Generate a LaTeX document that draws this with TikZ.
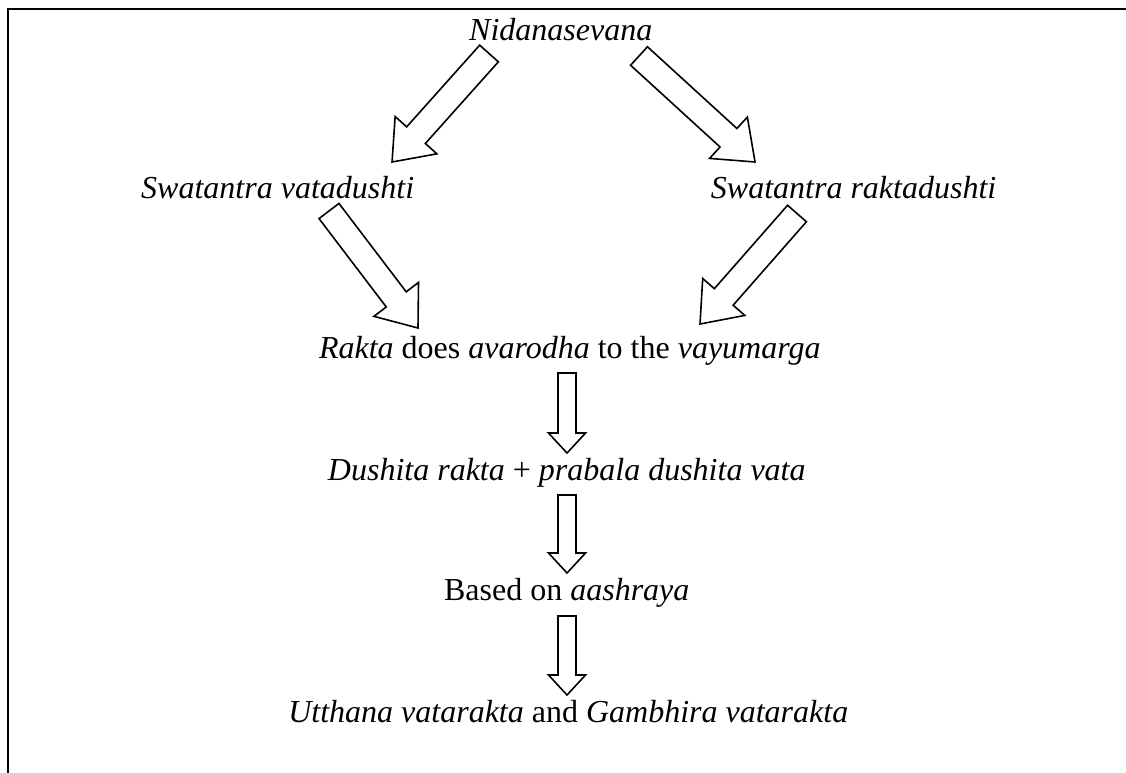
\documentclass[tikz,border=0pt]{standalone}
\usepackage{fontspec}
\setmainfont{Liberation Serif}
\usepackage{tikz}
\usetikzlibrary{calc}

% hollow block arrow: from, to, half shaft, half head, head length
\newcommand{\hollowarrow}[5]{%
  \coordinate (ha) at ($(#2)!#5!(#1)$);
  \draw[blockarr] ($(#1)!#3!90:(#2)$) -- ($(ha)!#3!90:(#2)$) -- ($(ha)!#4!90:(#2)$) -- (#2)
    -- ($(ha)!#4!-90:(#2)$) -- ($(ha)!#3!-90:(#2)$) -- ($(#1)!#3!-90:(#2)$) -- cycle;}

\begin{document}
\begin{tikzpicture}[
    every node/.style={font=\fontsize{12}{14}\selectfont,anchor=base,inner sep=0pt},
    lbl/.style={font=\fontsize{12}{14}\selectfont\itshape},
    blockarr/.style={draw,line width=0.6pt,fill=white,line join=miter},
    frame/.style={draw,line width=0.8pt}
]
\useasboundingbox (0,0) rectangle (422.25pt,-289.5pt);
\draw[frame] (0.10,-10.4) -- (0.10,-0.12) -- (15,-0.12);

\node[lbl] (nid) at (7.39,-0.53) {Nidanasevana};
\node[lbl] (vata) at (3.66,-2.61) {Swatantra vatadushti};
\node[lbl] (rakt) at (11.25,-2.61) {Swatantra raktadushti};
\node (avar) at (7.51,-4.72) {\textit{Rakta} does \textit{avarodha} to the \textit{vayumarga}};
\node (dush) at (7.47,-6.33) {\textit{Dushita rakta} + \textit{prabala dushita vata}};
\node (ash) at (7.47,-7.91) {Based on \textit{aashraya}};
\node (utth) at (7.49,-9.52) {\textit{Utthana vatarakta} and \textit{Gambhira vatarakta}};

\coordinate (nidL) at (6.445,-0.705);
\coordinate (vataT) at (5.167,-2.135);
\coordinate (nidR) at (8.422,-0.738);
\coordinate (raktT) at (9.951,-2.135);
\coordinate (vataB) at (4.336,-2.781);
\coordinate (avarL) at (5.509,-4.323);
\coordinate (raktB) at (10.504,-2.814);
\coordinate (avarR) at (9.226,-4.270);
\coordinate (avarB) at (7.473,-4.916);
\coordinate (dushT) at (7.473,-5.971);
\coordinate (dushB) at (7.473,-6.524);
\coordinate (ashT) at (7.473,-7.552);
\coordinate (ashB) at (7.473,-8.119);
\coordinate (utthT) at (7.473,-9.160);

\hollowarrow{nidL}{vataT}{0.165cm}{0.369cm}{0.474cm}
\hollowarrow{nidR}{raktT}{0.165cm}{0.369cm}{0.474cm}
\hollowarrow{vataB}{avarL}{0.165cm}{0.369cm}{0.474cm}
\hollowarrow{raktB}{avarR}{0.165cm}{0.369cm}{0.474cm}
\hollowarrow{avarB}{dushT}{0.119cm}{0.244cm}{0.264cm}
\hollowarrow{dushB}{ashT}{0.119cm}{0.244cm}{0.264cm}
\hollowarrow{ashB}{utthT}{0.119cm}{0.244cm}{0.264cm}
\end{tikzpicture}
\end{document}
